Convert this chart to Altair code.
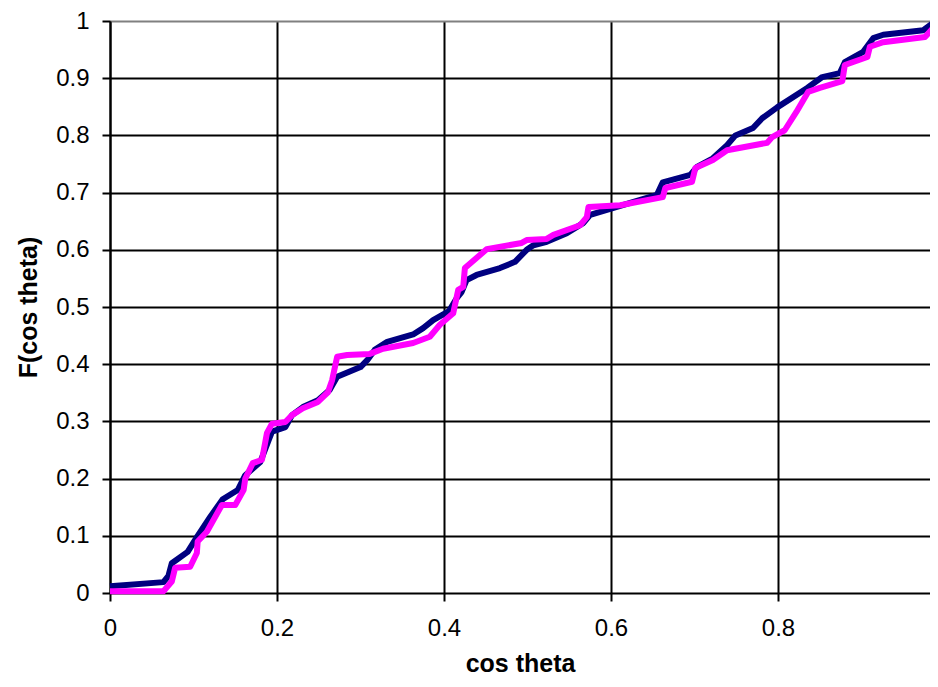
import altair as alt
import pandas as pd

# Series 1 (navy)
blue_x = [0, 0.064, 0.070, 0.074, 0.093, 0.105, 0.120, 0.135, 0.153, 0.162, 0.180, 0.190, 0.194,
          0.210, 0.218, 0.231, 0.249, 0.263, 0.272, 0.300, 0.308, 0.317, 0.332, 0.363, 0.375,
          0.387, 0.406, 0.415, 0.421, 0.427, 0.439, 0.467, 0.485, 0.499, 0.507, 0.523, 0.547,
          0.567, 0.575, 0.602, 0.655, 0.662, 0.695, 0.703, 0.722, 0.739, 0.749, 0.770, 0.781,
          0.799, 0.835, 0.853, 0.874, 0.880, 0.902, 0.914, 0.926, 0.974, 0.986]
blue_y = [0.012, 0.019, 0.030, 0.052, 0.072, 0.100, 0.133, 0.164, 0.180, 0.206, 0.229, 0.267, 0.282,
          0.290, 0.311, 0.325, 0.337, 0.355, 0.378, 0.395, 0.407, 0.425, 0.439, 0.452, 0.463,
          0.477, 0.493, 0.515, 0.526, 0.547, 0.556, 0.568, 0.579, 0.600, 0.608, 0.614, 0.629,
          0.647, 0.661, 0.673, 0.696, 0.718, 0.731, 0.745, 0.760, 0.783, 0.800, 0.813, 0.830,
          0.849, 0.883, 0.902, 0.909, 0.928, 0.946, 0.970, 0.976, 0.984, 0.997]

# Series 2 (magenta)
pink_x = [0, 0.064, 0.074, 0.078, 0.096, 0.104, 0.105, 0.116, 0.134, 0.150, 0.160, 0.162, 0.171,
          0.182, 0.188, 0.194, 0.210, 0.218, 0.231, 0.249, 0.261, 0.266, 0.272, 0.284, 0.311,
          0.327, 0.363, 0.383, 0.395, 0.411, 0.417, 0.423, 0.425, 0.451, 0.493, 0.499, 0.523,
          0.531, 0.563, 0.571, 0.573, 0.611, 0.662, 0.665, 0.697, 0.701, 0.722, 0.739, 0.787,
          0.793, 0.808, 0.822, 0.836, 0.850, 0.877, 0.880, 0.907, 0.910, 0.926, 0.976, 0.986]
pink_y = [0.003, 0.003, 0.020, 0.044, 0.046, 0.070, 0.090, 0.107, 0.154, 0.154, 0.180, 0.200, 0.227,
          0.233, 0.280, 0.296, 0.299, 0.311, 0.323, 0.334, 0.351, 0.372, 0.413, 0.416, 0.418,
          0.427, 0.437, 0.448, 0.469, 0.489, 0.530, 0.535, 0.568, 0.601, 0.612, 0.617, 0.619,
          0.626, 0.643, 0.657, 0.675, 0.678, 0.692, 0.708, 0.719, 0.743, 0.757, 0.774, 0.787,
          0.797, 0.809, 0.841, 0.876, 0.883, 0.895, 0.923, 0.937, 0.955, 0.963, 0.972, 0.988]

x_ticks = [0, 0.2, 0.4, 0.6, 0.8]
y_ticks = [0, 0.1, 0.2, 0.3, 0.4, 0.5, 0.6, 0.7, 0.8, 0.9, 1.0]
series_names = ["A", "B"]
series_colors = ["#000080", "#FF00FF"]

rows = []
for i, (x, y) in enumerate(zip(blue_x, blue_y)):
    rows.append({"x": x, "y": y, "s": "A", "i": i})
for i, (x, y) in enumerate(zip(pink_x, pink_y)):
    rows.append({"x": x, "y": y, "s": "B", "i": i})
df = pd.DataFrame(rows)

FONT = "Liberation Sans"

xenc = alt.X("x:Q", scale=alt.Scale(domain=[0, 0.982], nice=False, zero=False),
             axis=alt.Axis(values=x_ticks, format="~g", title="cos theta",
                           grid=True, gridColor="black", gridWidth=2,
                           domain=False, tickColor="black", tickWidth=2, tickSize=8,
                           labelFlush=False,
                           labelFontSize=24, labelFont=FONT, labelColor="black",
                           labelPadding=15, titleFont=FONT, titleFontSize=25,
                           titleFontWeight="bold", titleColor="black", titlePadding=11))
yenc = alt.Y("y:Q", scale=alt.Scale(domain=[0, 1], nice=False),
             axis=alt.Axis(values=y_ticks, format="~g", title="F(cos theta)",
                           grid=True,
                           gridColor=alt.condition("datum.value >= 1", alt.value("#808080"), alt.value("black")),
                           gridWidth=2,
                           domain=True, domainColor="black", domainWidth=2,
                           tickColor="black", tickWidth=2, tickSize=8,
                           labelFlush=False,
                           labelFontSize=24, labelFont=FONT, labelColor="black",
                           labelPadding=13, titleFont=FONT, titleFontSize=25,
                           titleFontWeight="bold", titleColor="black", titlePadding=14))

base = alt.Chart(df)
lines = base.mark_line(strokeWidth=6, strokeJoin="round", strokeCap="butt").encode(
    x=xenc, y=yenc,
    color=alt.Color("s:N", scale=alt.Scale(domain=series_names, range=series_colors), legend=None),
    order="i:Q",
    detail="s:N",
)

chart = lines.properties(
    width=820, height=572,
    autosize=alt.AutoSizeParams(type="none"),
    padding={"left": 102, "top": 13, "right": 0, "bottom": 82},
).configure_view(stroke=None).configure(background="white")

chart.save("out.html", embed_options={"renderer": "svg", "actions": False})
